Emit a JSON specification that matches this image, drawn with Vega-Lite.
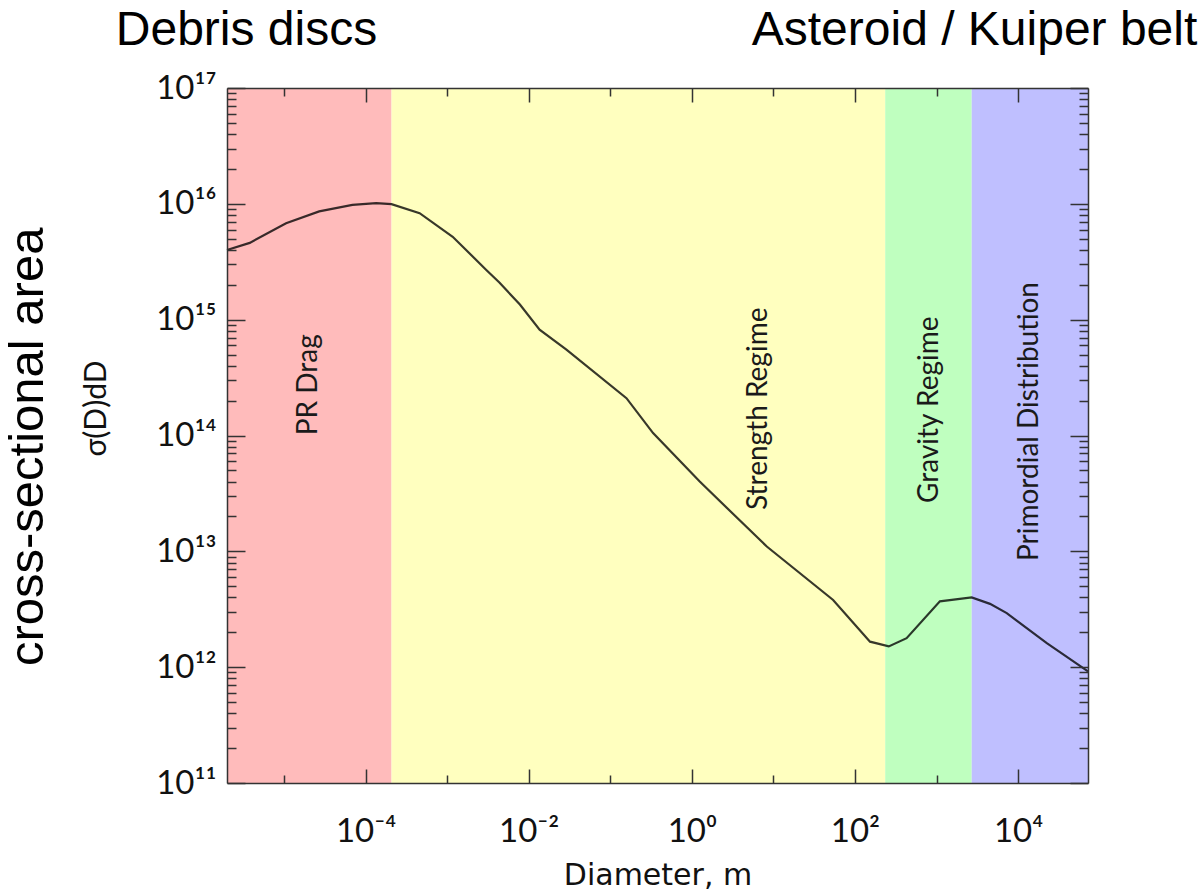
{
  "$schema": "https://vega.github.io/schema/vega-lite/v6.json",
  "width": 861,
  "height": 695,
  "autosize": {"type": "none"},
  "padding": {"left": 227, "top": 88, "right": 115, "bottom": 107},
  "background": "white",
  "config": {
    "view": {"stroke": null},
    "axis": {"grid": false, "labelFont": "Lato", "titleFont": "Lato", "titleFontWeight": "normal", "tickColor": "#333", "tickWidth": 1.5, "domainColor": "#333", "domainWidth": 1.5, "labelColor": "#111", "titleColor": "#111"}
  },
  "datasets": {
    "regions": [
      {"region": "PR Drag", "start": 2e-6, "end": 2.08e-4},
      {"region": "Strength Regime", "start": 2.08e-4, "end": 235},
      {"region": "Gravity Regime", "start": 235, "end": 2700},
      {"region": "Primordial Distribution", "start": 2700, "end": 72000}
    ],
    "curve": [
      {"D": 2e-6, "sigma": 4.0e15},
      {"D": 3.8e-6, "sigma": 4.6e15},
      {"D": 1.06e-5, "sigma": 6.8e15},
      {"D": 2.7e-5, "sigma": 8.6e15},
      {"D": 6.9e-5, "sigma": 9.8e15},
      {"D": 1.35e-4, "sigma": 1.015e16},
      {"D": 2.08e-4, "sigma": 9.95e15},
      {"D": 4.6e-4, "sigma": 8.3e15},
      {"D": 1.17e-3, "sigma": 5.2e15},
      {"D": 3.0e-3, "sigma": 2.7e15},
      {"D": 4.4e-3, "sigma": 2.08e15},
      {"D": 7.8e-3, "sigma": 1.35e15},
      {"D": 1.36e-2, "sigma": 8.2e14},
      {"D": 2.9e-2, "sigma": 5.5e14},
      {"D": 0.158, "sigma": 2.1e14},
      {"D": 0.335, "sigma": 1.05e14},
      {"D": 1.25, "sigma": 4.0e13},
      {"D": 8.3, "sigma": 1.1e13},
      {"D": 54, "sigma": 3.8e12},
      {"D": 153, "sigma": 1.66e12},
      {"D": 260, "sigma": 1.51e12},
      {"D": 430, "sigma": 1.78e12},
      {"D": 1100, "sigma": 3.7e12},
      {"D": 2700, "sigma": 4.0e12},
      {"D": 4530, "sigma": 3.52e12},
      {"D": 7260, "sigma": 2.93e12},
      {"D": 22500, "sigma": 1.61e12},
      {"D": 72000, "sigma": 9.2e11}
    ],
    "regionLabels": [
      {"label": "PR Drag", "D": 2.0e-5, "sigma": 2.74e14},
      {"label": "Strength Regime", "D": 6.64, "sigma": 1.70e14},
      {"label": "Gravity Regime", "D": 832, "sigma": 1.67e14},
      {"label": "Primordial Distribution", "D": 14030, "sigma": 1.32e14}
    ],
    "topLabels": [
      {"label": "Debris discs", "D": 3.47e-6, "sigma": 3.13e17},
      {"label": "Asteroid / Kuiper belt", "D": 2925, "sigma": 3.13e17}
    ],
    "sideLabels": [
      {"label": "cross-sectional area", "D": 7.33e-9, "sigma": 7.98e13}
    ]
  },
  "layer": [
    {
      "data": {"name": "regions"},
      "mark": {"type": "rect"},
      "encoding": {
        "x": {"field": "start", "type": "quantitative",
          "scale": {"type": "log", "domain": [2e-6, 72000], "nice": false},
          "axis": {"orient": "bottom", "zindex": 2, "values": [1e-4, 1e-2, 1, 100, 10000], "ticks": false, "labelPadding": 32, "labelFontSize": 33,
            "labelExpr": "datum.value < 0.001 ? '10⁻⁴' : datum.value < 0.1 ? '10⁻²' : datum.value < 10 ? '10⁰' : datum.value < 1000 ? '10²' : '10⁴'",
            "title": "Diameter, m", "titleFont": "DejaVu Sans", "titleFontSize": 30, "titlePadding": 12, "domain": true}},
        "x2": {"field": "end"},
        "y": {"datum": 1e17, "type": "quantitative",
          "scale": {"type": "log", "domain": [1e11, 1e17], "nice": false},
          "axis": {"orient": "left", "zindex": 2, "values": [1e11, 1e12, 1e13, 1e14, 1e15, 1e16, 1e17], "ticks": false, "labelPadding": 11, "labelFontSize": 33,
            "labelExpr": "datum.value < 5e11 ? '10¹¹' : datum.value < 5e12 ? '10¹²' : datum.value < 5e13 ? '10¹³' : datum.value < 5e14 ? '10¹⁴' : datum.value < 5e15 ? '10¹⁵' : datum.value < 5e16 ? '10¹⁶' : '10¹⁷'",
            "title": "σ(D)dD", "titleFontSize": 30, "titlePadding": 44, "titleY": 320, "domain": true}},
        "y2": {"datum": 1e11},
        "color": {"field": "region", "type": "nominal",
          "scale": {"domain": ["PR Drag", "Strength Regime", "Gravity Regime", "Primordial Distribution"], "range": ["#ffbbbb", "#ffffbf", "#bfffbf", "#bfbfff"]},
          "legend": null}
      }
    },
    {
      "data": {"name": "curve"},
      "mark": {"type": "line", "color": "#000000", "opacity": 0.78, "strokeWidth": 2.2},
      "encoding": {
        "x": {"field": "D", "type": "quantitative",
          "scale": {"type": "log", "domain": [2e-6, 72000], "nice": false},
          "axis": {"orient": "bottom", "zindex": 2, "values": [1e-4, 1e-2, 1, 100, 10000], "offset": -14, "tickSize": 14, "labels": false, "domain": false, "title": null}},
        "y": {"field": "sigma", "type": "quantitative",
          "scale": {"type": "log", "domain": [1e11, 1e17], "nice": false},
          "axis": {"orient": "left", "zindex": 2, "values": [1e11, 1e12, 1e13, 1e14, 1e15, 1e16, 1e17], "offset": -18, "tickSize": 18, "labels": false, "domain": false, "title": null}}
      }
    },
    {
      "data": {"name": "regionLabels"},
      "transform": [{"filter": "datum.label === 'PR Drag' || datum.label === 'Strength Regime'"}],
      "mark": {"type": "text", "angle": 270, "align": "center", "baseline": "middle", "font": "Lato", "fontSize": 28, "color": "#1a1a1a"},
      "encoding": {
        "x": {"field": "D", "type": "quantitative",
          "scale": {"type": "log", "domain": [2e-6, 72000], "nice": false},
          "axis": {"orient": "bottom", "zindex": 2, "values": [1e-5, 1e-3, 0.1, 10, 1000], "offset": -8, "tickSize": 8, "labels": false, "domain": false, "title": null}},
        "y": {"field": "sigma", "type": "quantitative",
          "scale": {"type": "log", "domain": [1e11, 1e17], "nice": false},
          "axis": {"orient": "left", "zindex": 2, "values": [2e11, 3e11, 4e11, 5e11, 6e11, 7e11, 8e11, 9e11, 2e12, 3e12, 4e12, 5e12, 6e12, 7e12, 8e12, 9e12, 2e13, 3e13, 4e13, 5e13, 6e13, 7e13, 8e13, 9e13, 2e14, 3e14, 4e14, 5e14, 6e14, 7e14, 8e14, 9e14, 2e15, 3e15, 4e15, 5e15, 6e15, 7e15, 8e15, 9e15, 2e16, 3e16, 4e16, 5e16, 6e16, 7e16, 8e16, 9e16], "offset": -9, "tickSize": 9, "labels": false, "domain": false, "title": null}},
        "text": {"field": "label"}
      }
    },
    {
      "data": {"name": "regionLabels"},
      "transform": [{"filter": "datum.label === 'Gravity Regime' || datum.label === 'Primordial Distribution'"}],
      "mark": {"type": "text", "angle": 270, "align": "center", "baseline": "middle", "font": "Lato", "fontSize": 28, "color": "#1a1a1a"},
      "encoding": {
        "x": {"field": "D", "type": "quantitative",
          "scale": {"type": "log", "domain": [2e-6, 72000], "nice": false},
          "axis": {"orient": "top", "zindex": 2, "values": [1e-4, 1e-2, 1, 100, 10000], "offset": -14, "tickSize": 14, "labels": false, "domain": false, "title": null}},
        "y": {"field": "sigma", "type": "quantitative",
          "scale": {"type": "log", "domain": [1e11, 1e17], "nice": false},
          "axis": {"orient": "right", "zindex": 2, "values": [1e11, 1e12, 1e13, 1e14, 1e15, 1e16, 1e17], "offset": -18, "tickSize": 18, "labels": false, "domain": false, "title": null}},
        "text": {"field": "label"}
      }
    },
    {
      "data": {"name": "topLabels"},
      "mark": {"type": "text", "align": "center", "baseline": "middle", "font": "Liberation Sans", "fontSize": 48, "color": "#000000"},
      "encoding": {
        "x": {"field": "D", "type": "quantitative",
          "scale": {"type": "log", "domain": [2e-6, 72000], "nice": false},
          "axis": {"orient": "top", "zindex": 2, "values": [1e-5, 1e-3, 0.1, 10, 1000], "offset": -8, "tickSize": 8, "labels": false, "domain": false, "title": null}},
        "y": {"field": "sigma", "type": "quantitative",
          "scale": {"type": "log", "domain": [1e11, 1e17], "nice": false},
          "axis": {"orient": "right", "zindex": 2, "values": [2e11, 3e11, 4e11, 5e11, 6e11, 7e11, 8e11, 9e11, 2e12, 3e12, 4e12, 5e12, 6e12, 7e12, 8e12, 9e12, 2e13, 3e13, 4e13, 5e13, 6e13, 7e13, 8e13, 9e13, 2e14, 3e14, 4e14, 5e14, 6e14, 7e14, 8e14, 9e14, 2e15, 3e15, 4e15, 5e15, 6e15, 7e15, 8e15, 9e15, 2e16, 3e16, 4e16, 5e16, 6e16, 7e16, 8e16, 9e16], "offset": -9, "tickSize": 9, "labels": false, "domain": false, "title": null}},
        "text": {"field": "label"}
      }
    },
    {
      "data": {"name": "sideLabels"},
      "mark": {"type": "text", "angle": 270, "align": "center", "baseline": "middle", "font": "Liberation Sans", "fontSize": 49, "color": "#000000"},
      "encoding": {
        "x": {"field": "D", "type": "quantitative",
          "scale": {"type": "log", "domain": [2e-6, 72000], "nice": false},
          "axis": {"orient": "top", "zindex": 2, "values": [1e-4], "ticks": false, "labels": false, "domain": true, "title": null}},
        "y": {"field": "sigma", "type": "quantitative",
          "scale": {"type": "log", "domain": [1e11, 1e17], "nice": false},
          "axis": {"orient": "right", "zindex": 2, "values": [1e14], "ticks": false, "labels": false, "domain": true, "title": null}},
        "text": {"field": "label"}
      }
    }
  ],
  "resolve": {"axis": {"x": "independent", "y": "independent"}}
}
